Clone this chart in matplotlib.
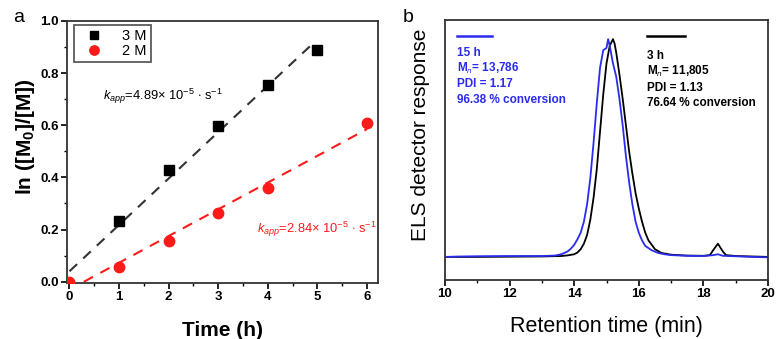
import matplotlib
matplotlib.use("Agg")
from matplotlib import pyplot as plt
from matplotlib.ticker import MultipleLocator
import numpy as np

plt.rcParams['font.family'] = ['Liberation Sans', 'DejaVu Sans']
plt.rcParams['mathtext.fontset'] = 'custom'
plt.rcParams['mathtext.rm'] = 'Liberation Sans'
plt.rcParams['mathtext.it'] = 'Liberation Sans:italic'
plt.rcParams['mathtext.bf'] = 'Liberation Sans:bold'

# panel a: kinetics
time3M = [1, 2, 3, 4, 5]
lnRatio3M = [0.232, 0.428, 0.598, 0.755, 0.888]
time2M = [0, 1, 2, 3, 4, 6]
lnRatio2M = [0.0, 0.058, 0.157, 0.265, 0.36, 0.607]
fit3M = [0.178, 0.040]      # slope, intercept
fit3MRange = [0.0, 4.85]
fit2M = [0.1026, -0.030]
fit2MRange = [0.29, 6.0]
kapp3M = r"$k_{app}$=4.89$\times$ 10$^{-5}$ $\cdot$ s$^{-1}$"
kapp2M = r"$k_{app}$=2.84$\times$ 10$^{-5}$ $\cdot$ s$^{-1}$"

# panel b: GPC traces
rt15h = [10.0, 10.5, 11.0, 12.0, 13.0, 13.4, 13.6, 13.8, 13.9, 14.0, 14.1, 14.2, 14.3,
         14.4, 14.5, 14.6, 14.7, 14.8, 14.9, 15.0, 15.05, 15.1, 15.2, 15.3, 15.4, 15.5,
         15.6, 15.7, 15.8, 15.9, 16.0, 16.1, 16.2, 16.4, 16.6, 16.8, 17.0, 17.5, 18.0,
         18.3, 18.45, 18.6, 19.0, 19.5, 20.0]
resp15h = [0.0, 0.002, 0.003, 0.004, 0.004, 0.006, 0.012, 0.025, 0.038, 0.055, 0.08, 0.11,
           0.16, 0.24, 0.36, 0.52, 0.70, 0.86, 0.94, 0.95, 0.99, 0.96, 0.88, 0.82, 0.72,
           0.60, 0.46, 0.34, 0.24, 0.16, 0.11, 0.075, 0.05, 0.03, 0.018, 0.012, 0.008,
           0.005, 0.004, 0.008, 0.012, 0.005, 0.003, 0.0, -0.002]
rt3h = [10.0, 11.0, 12.0, 13.0, 13.6, 13.8, 14.0, 14.1, 14.2, 14.3, 14.4, 14.5, 14.6, 14.7,
        14.8, 14.9, 15.0, 15.1, 15.2, 15.25, 15.3, 15.4, 15.5, 15.6, 15.7, 15.8, 15.9,
        16.0, 16.1, 16.2, 16.3, 16.5, 16.7, 17.0, 17.5, 18.0, 18.2, 18.3, 18.45, 18.6,
        18.7, 19.0, 19.5, 20.0]
resp3h = [0.0, 0.0, 0.001, 0.002, 0.004, 0.007, 0.012, 0.02, 0.035, 0.06, 0.10, 0.17, 0.27,
          0.40, 0.57, 0.74, 0.88, 0.96, 0.99, 0.97, 0.93, 0.83, 0.72, 0.60, 0.48, 0.38,
          0.29, 0.22, 0.16, 0.11, 0.075, 0.035, 0.018, 0.01, 0.006, 0.005, 0.008, 0.03,
          0.06, 0.025, 0.008, 0.004, 0.002, 0.0]
label15h = ["15 h", r"M$_n$= 13,786", "PDI = 1.17", "96.38 % conversion"]
label3h = ["3 h", r"M$_n$= 11,805", "PDI = 1.13", "76.64 % conversion"]

blue = "#2b2bf0"
red = "#ff1a1a"

fig = plt.figure(figsize=(7.76, 3.39), dpi=100)
W, H = 776.0, 339.0

# ---------- panel a ----------
axA = fig.add_axes([67 / W, (H - 283) / H, (378 - 67) / W, (283 - 21) / H])
axA.plot(time3M, lnRatio3M, 's', color='black', markersize=7, label='3 M', zorder=3)
axA.plot(time2M, lnRatio2M, 'o', color=red, markersize=7.5, label='2 M', zorder=3)

xf = np.array(fit3MRange)
axA.plot(xf, fit3M[0] * xf + fit3M[1], '--', color='#333333', lw=1.5, dashes=(5, 4))
xf = np.array(fit2MRange)
axA.plot(xf, fit2M[0] * xf + fit2M[1], '--', color=red, lw=1.5, dashes=(5, 4))

axA.set_xlim(-0.05, 6.22)
axA.set_ylim(-0.005, 1.0)
axA.xaxis.set_major_locator(MultipleLocator(1))
axA.xaxis.set_minor_locator(MultipleLocator(0.5))
axA.yaxis.set_major_locator(MultipleLocator(0.2))
axA.yaxis.set_minor_locator(MultipleLocator(0.1))
axA.yaxis.set_major_formatter(matplotlib.ticker.FormatStrFormatter('%.1f'))
axA.tick_params(which='major', direction='out', length=4, width=1.2, labelsize=9.5, pad=2)
axA.tick_params(which='minor', direction='out', length=2.5, width=1.0)
for lab in axA.get_xticklabels() + axA.get_yticklabels():
    lab.set_fontweight('bold')
for sp in axA.spines.values():
    sp.set_linewidth(1.3)
    sp.set_color('#333333')

axA.set_xlabel("Time (h)", fontsize=15, fontweight='bold', labelpad=13)
axA.set_ylabel(r"ln ([M$_\mathbf{0}$]/[M])", fontsize=15, fontweight='bold')
axA.yaxis.set_label_coords(-0.095, 0.56)

axA.text(0.68, 0.71, kapp3M, fontsize=9.3, color='black', va='center')
axA.text(3.78, 0.20, kapp2M, fontsize=9.3, color=red, va='center')

leg = axA.legend(loc='upper left', bbox_to_anchor=(0.022, 0.985), borderaxespad=0,
                 fontsize=10.5, frameon=True, fancybox=False, handletextpad=0.8,
                 borderpad=0.3, labelspacing=0.05, handlelength=2.2, markerscale=0.9)
leg.get_frame().set_edgecolor('#333333')
leg.get_frame().set_linewidth(1.3)

fig.text(13 / W, (H - 18) / H, "a", fontsize=14, va='center', ha='left')

# ---------- panel b ----------
axB = fig.add_axes([445 / W, (H - 280) / H, (768 - 445) / W, (280 - 20) / H])
axB.plot(rt3h, resp3h, color='black', lw=1.3)
axB.plot(rt15h, resp15h, color=blue, lw=1.3)
axB.set_xlim(10, 20)
axB.set_ylim(-0.105, 1.077)
axB.xaxis.set_major_locator(MultipleLocator(2))
axB.xaxis.set_minor_locator(MultipleLocator(1))
axB.set_yticks([])
axB.tick_params(which='major', direction='out', length=4, width=1.2, labelsize=9.5, pad=2)
axB.tick_params(which='minor', direction='out', length=2.5, width=1.0)
for lab in axB.get_xticklabels():
    lab.set_fontweight('bold')
for sp in axB.spines.values():
    sp.set_linewidth(1.3)
    sp.set_color('#333333')
axB.set_xlabel("Retention time (min)", fontsize=15.5, labelpad=11)
axB.set_ylabel("ELS detector response", fontsize=15)
axB.yaxis.set_label_coords(-0.047, 0.56)

axB.plot([0.037, 0.146], [0.94, 0.94], color=blue, lw=1.8, transform=axB.transAxes)
axB.plot([0.625, 0.743], [0.94, 0.94], color='black', lw=1.8, transform=axB.transAxes)
yrows = [0.873, 0.813, 0.752, 0.692]
for yy, t in zip(yrows, label15h):
    axB.text(0.037, yy, t, color=blue, fontsize=8.5, fontweight='bold',
             transform=axB.transAxes, va='center', ha='left')
for yy, t in zip(yrows, label3h):
    axB.text(0.625, yy - 0.012, t, color='black', fontsize=8.5, fontweight='bold',
             transform=axB.transAxes, va='center', ha='left')

fig.text(403 / W, (H - 18) / H, "b", fontsize=14, va='center', ha='left')

fig.savefig("out.png", dpi=100)
